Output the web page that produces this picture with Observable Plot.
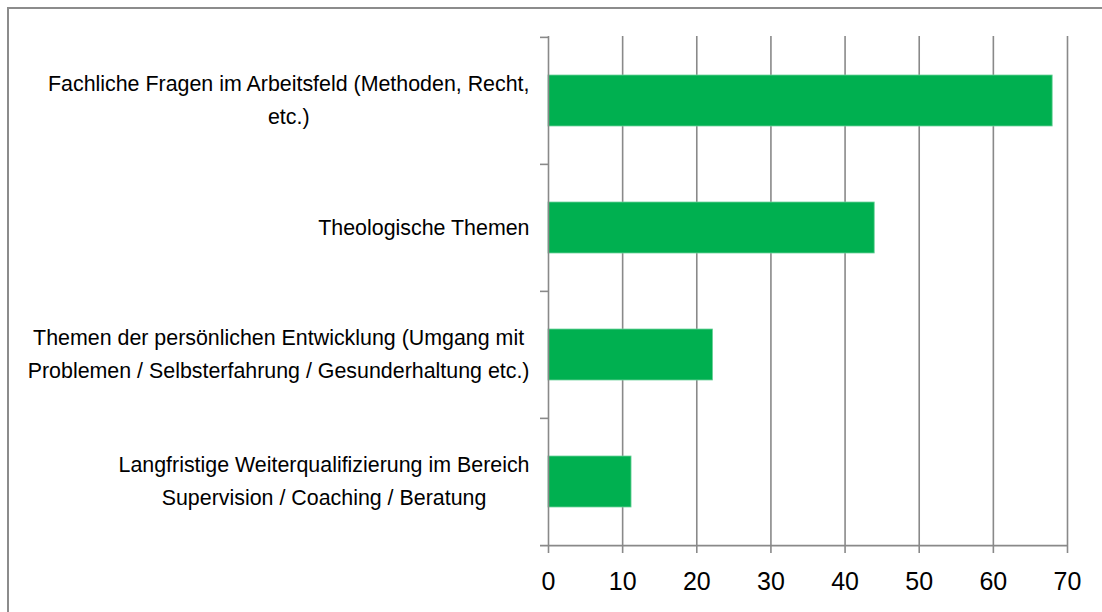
<!DOCTYPE html>
<html>
<head>
<meta charset="utf-8">
<script src="https://cdn.jsdelivr.net/npm/d3@7"></script>
<script src="https://cdn.jsdelivr.net/npm/@observablehq/plot@0.6"></script>
<style>
  html, body { margin: 0; padding: 0; background: #fff; }
  #wrap { position: relative; width: 1102px; height: 612px; overflow: hidden; }
  #frame { position: absolute; left: 7px; top: 7px; width: 1102px; height: 612px;
           border-left: 2px solid #8c8c8c; border-top: 2px solid #8c8c8c; box-sizing: border-box; }
  #chart { position: absolute; left: 0; top: 0; }
</style>
</head>
<body>
<div id="wrap"><div id="frame"></div><div id="chart"></div></div>
<script>
const categories = [
  "Fachliche Fragen im Arbeitsfeld (Methoden, Recht,\netc.)",
  "Theologische Themen",
  "Themen der persönlichen Entwicklung (Umgang mit\nProblemen / Selbsterfahrung / Gesunderhaltung etc.)",
  "Langfristige Weiterqualifizierung im Bereich\nSupervision / Coaching / Beratung"
];
const values = [68, 44, 22.2, 11.2];
const xTicks = [0, 10, 20, 30, 40, 50, 60, 70];

const data = categories.map((c, i) => ({category: c, value: values[i]}));

const W = 1102, H = 612, mT = 36, mB = 67, mL = 548, mR = 35;
const step = (H - mT - mB) / categories.length;
const gray = "#898989";

const svg = Plot.plot({
  width: W, height: H,
  marginLeft: mL, marginRight: mR, marginTop: mT, marginBottom: mB,
  style: {fontFamily: "'Liberation Sans', Arial, sans-serif", color: "#000", background: "transparent"},
  x: {domain: [0, 70], ticks: xTicks, label: null},
  y: {domain: categories, paddingInner: 0.6, paddingOuter: 0.3, label: null},
  marks: [
    Plot.ruleX(xTicks.slice(1), {stroke: gray, strokeWidth: 1.6}),
    Plot.barX(data, {x: "value", y: "category", fill: "#00b050", stroke: "#6fd39c", strokeWidth: 0.8}),
    Plot.ruleX([0], {stroke: gray, strokeWidth: 1.6}),
    Plot.ruleY(categories, {y: d => d, dy: -step / 2, x1: 0, x2: 0, insetLeft: -8, stroke: gray, strokeWidth: 1.6}),
    Plot.ruleY([categories[categories.length - 1]], {y: d => d, dy: step / 2, x1: 0, x2: 70, insetLeft: -8, stroke: gray, strokeWidth: 1.6}),
    Plot.axisX({ticks: xTicks, tickSize: 8, stroke: gray, strokeWidth: 1.6, text: null, label: null}),
    Plot.axisX({ticks: xTicks, tickSize: 0, tickPadding: 27, fontSize: 25, fill: "#000", label: null}),
    Plot.axisY({tickSize: 0, tickPadding: 19, dy: -4, fontSize: 21.4, lineHeight: 1.55, textAnchor: "end", fill: "#000", label: null})
  ]
});
document.getElementById("chart").appendChild(svg);

// center wrapped lines within a right-aligned block
svg.querySelectorAll('g[aria-label="y-axis tick label"] text').forEach(t => {
  const spans = t.querySelectorAll("tspan");
  if (!spans.length) return;
  let w = 0;
  spans.forEach(s => { w = Math.max(w, s.getComputedTextLength()); });
  t.setAttribute("text-anchor", "middle");
  spans.forEach(s => s.setAttribute("x", -w / 2));
});
</script>
</body>
</html>
